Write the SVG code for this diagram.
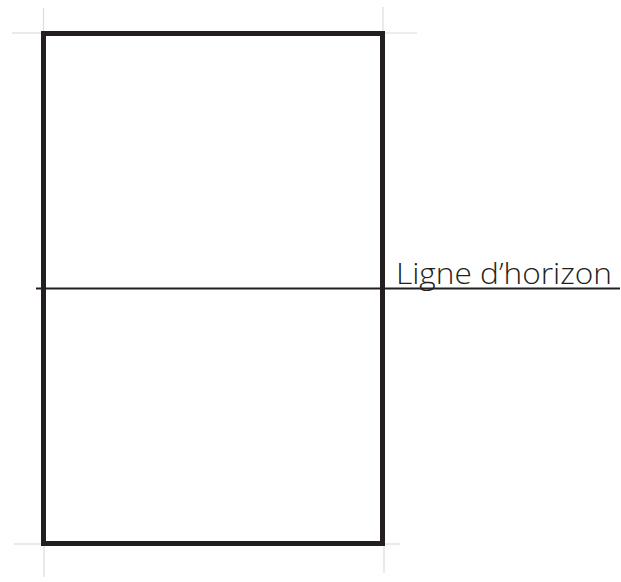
<svg xmlns="http://www.w3.org/2000/svg" width="621" height="582" viewBox="0 0 621 582">
<style>
.guide{stroke:#dcdcdc;stroke-width:1.2;fill:none}
.frame{stroke:#231f20;stroke-width:5;fill:none}
.horizon{stroke:#231f20;stroke-width:2}
.lbl{font-family:"Open Sans","Liberation Sans",sans-serif;font-weight:300;font-size:29px;fill:#231f20}
</style>
<rect width="621" height="582" fill="#ffffff"/>
<g id="guides">
<line class="guide" x1="43.5" y1="8" x2="43.5" y2="33"/>
<line class="guide" x1="12" y1="33" x2="43.5" y2="33"/>
<line class="guide" x1="383" y1="7" x2="383" y2="33"/>
<line class="guide" x1="383" y1="33" x2="417" y2="33"/>
<line class="guide" x1="14" y1="544" x2="43.5" y2="544"/>
<line class="guide" x1="44" y1="544" x2="44" y2="577"/>
<line class="guide" x1="383" y1="544" x2="400" y2="544"/>
<line class="guide" x1="384" y1="544" x2="384" y2="573"/>
</g>
<g id="frame">
<rect class="frame" x="43.5" y="33.5" width="339" height="510"/>
</g>
<g id="horizon">
<line class="horizon" x1="36" y1="288.5" x2="620" y2="288.5"/>
<text class="lbl" x="396" y="284" textLength="216" lengthAdjust="spacingAndGlyphs">Ligne d’horizon</text>
</g>
</svg>
